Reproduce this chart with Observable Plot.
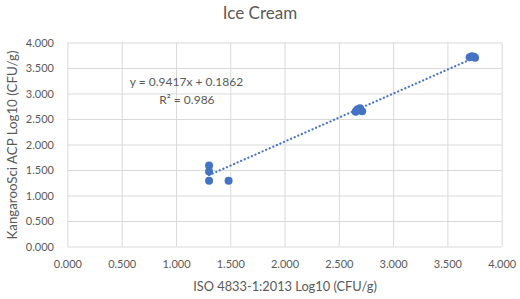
<!DOCTYPE html>
<html>
<head>
<meta charset="utf-8">
<script src="https://cdn.jsdelivr.net/npm/d3@7"></script>
<script src="https://cdn.jsdelivr.net/npm/@observablehq/plot@0.6"></script>
<style>
  html, body { margin: 0; padding: 0; background: #fff; }
  #title { width: 520px; height: 26px; text-align: center; font-family: Lato, "Open Sans", sans-serif; font-size: 17px; line-height: 26px; color: #595959; box-sizing: border-box; }
</style>
</head>
<body>
<div id="title">Ice Cream</div>
<div id="chart"></div>
<script>
const isoValues = [1.30, 1.30, 1.30, 1.48, 2.65, 2.67, 2.69, 2.71, 2.66, 3.70, 3.72, 3.75, 3.74];
const kangarooValues = [1.60, 1.48, 1.30, 1.30, 2.65, 2.70, 2.72, 2.66, 2.68, 3.72, 3.74, 3.71, 3.73];
const slope = 0.9417;
const intercept = 0.1862;
const trendRange = [1.30, 3.75];
const ticks = [0, 0.5, 1, 1.5, 2, 2.5, 3, 3.5, 4];
const xLabel = "ISO 4833-1:2013 Log10 (CFU/g)";
const yLabel = "KangarooSci ACP Log10 (CFU/g)";
const eqText = "y = 0.9417x + 0.1862";
const r2Text = "R² = 0.986";

const points = isoValues.map((x, i) => ({x, y: kangarooValues[i]}));
const trend = trendRange.map(x => ({x, y: slope * x + intercept}));
const fmt = d3.format(".3f");
const font = "Lato, 'Open Sans', sans-serif";
const gray = "#595959";
const blue = "#4472C4";

const chart = Plot.plot({
  width: 520,
  height: 273,
  marginLeft: 67.4,
  marginRight: 18.3,
  marginTop: 16.5,
  marginBottom: 52.5,
  style: {fontFamily: font, fontSize: "11px", color: gray, background: "#fff", overflow: "visible"},
  x: {domain: [0, 4]},
  y: {domain: [0, 4]},
  marks: [
    Plot.gridX(ticks, {stroke: "#d9d9d9", strokeOpacity: 1, strokeWidth: 1}),
    Plot.gridY(ticks, {stroke: "#d9d9d9", strokeOpacity: 1, strokeWidth: 1}),
    Plot.axisX(ticks, {tickFormat: fmt, tickSize: 0, tickPadding: 13, label: null, fill: gray, fontSize: 11}),
    Plot.axisY(ticks, {tickFormat: fmt, tickSize: 0, tickPadding: 14, label: null, fill: gray, fontSize: 11}),
    Plot.line(trend, {x: "x", y: "y", stroke: blue, strokeWidth: 2.2, strokeDasharray: "0.1,3.8", strokeLinecap: "round"}),
    Plot.dot(points, {x: "x", y: "y", r: 4, fill: blue, stroke: "none"}),
    Plot.text([eqText], {text: d => d, frameAnchor: "top-left", dx: 118.6, dy: 34.5, textAnchor: "middle", fill: gray, fontSize: 12}),
    Plot.text([r2Text], {text: d => d, frameAnchor: "top-left", dx: 119, dy: 52.5, textAnchor: "middle", fill: gray, fontSize: 12}),
    Plot.text([xLabel], {text: d => d, frameAnchor: "bottom", dy: 43.5, textAnchor: "middle", fill: gray, fontSize: 12.8}),
    Plot.text([yLabel], {text: d => d, frameAnchor: "left", dx: -55.5, rotate: -90, textAnchor: "middle", lineWidth: 100, fill: gray, fontSize: 13.3})
  ]
});
document.getElementById("chart").appendChild(chart);
</script>
</body>
</html>
